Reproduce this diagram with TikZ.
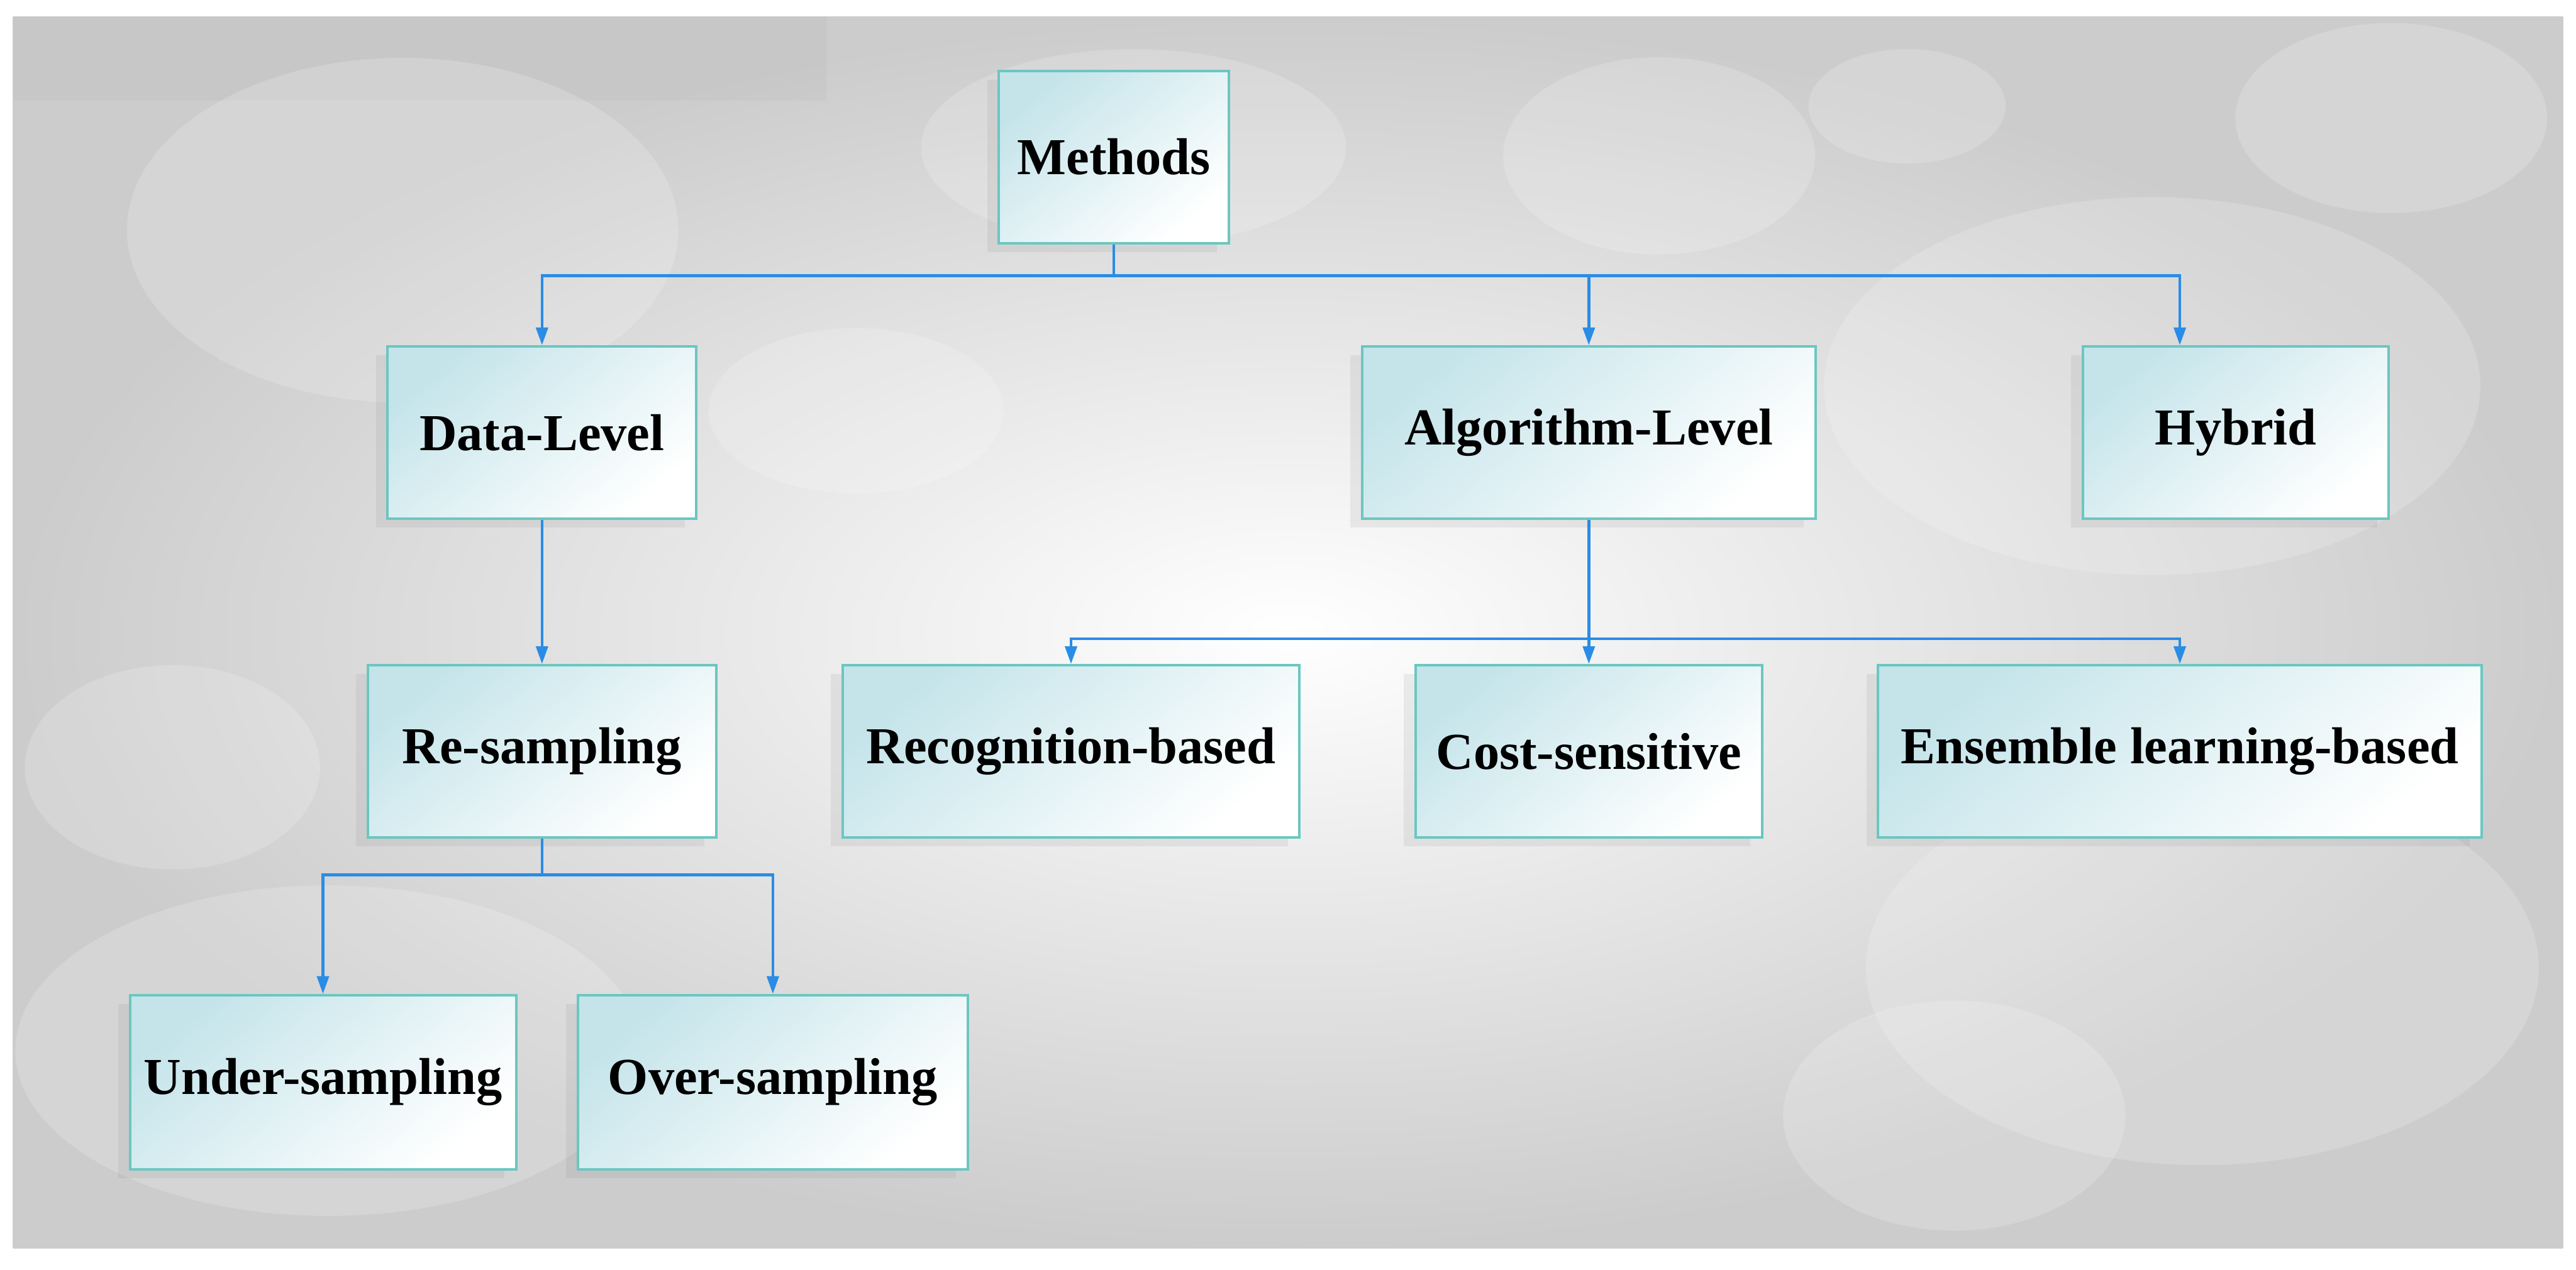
\documentclass[tikz,border=0pt]{standalone}
\usepackage{fontspec}
\setmainfont{Liberation Serif}
\usetikzlibrary{arrows.meta,positioning,shadows}
\definecolor{boxtop}{RGB}{196,228,234}
\definecolor{boxedge}{RGB}{108,198,192}
\definecolor{wire}{RGB}{42,140,230}
\definecolor{panel}{RGB}{204,204,204}
\tikzset{
  >={Triangle[length=3mm,width=2mm]},
  box/.style={draw=boxedge,line width=1.2pt,top color=boxtop,bottom color=white,
    shading angle=40,minimum width=#1,minimum height=2.92cm,align=center,
    font=\fontsize{25}{30}\selectfont\bfseries,
    drop shadow={shadow xshift=-0.2cm,shadow yshift=-0.15cm,opacity=0.12}},
  box/.default=5.2cm,
  flow/.style={->,line width=1.4pt,draw=wire},
  blob/.style={fill=white,opacity=0.18},
}
\begin{document}
\begin{tikzpicture}
    \useasboundingbox (0,0) rectangle (43.63,-21.51);
    % backdrop
    \fill[white] (0,0) rectangle (43.63,-21.51);
    \shade[inner color=white,outer color=panel] (0.22,-0.28) rectangle (43.41,-21.15);
    \begin{scope}
      \clip (0.22,-0.28) rectangle (43.41,-21.15);
      \fill[black,opacity=0.025] (0.22,-0.28) rectangle (14,-1.7);
      \fill[blob] (6.82,-3.9) ellipse (4.67 and 2.92);
      \fill[blob] (28.1,-2.64) ellipse (2.64 and 1.67);
      \fill[blob] (32.3,-1.8) ellipse (1.67 and 0.97);
      \fill[blob] (40.5,-2.0) ellipse (2.64 and 1.61);
      \fill[blob] (36.45,-6.54) ellipse (5.56 and 3.2);
      \fill[blob] (2.92,-13.0) ellipse (2.5 and 1.73);
      \fill[blob] (37.3,-16.4) ellipse (5.7 and 3.34);
      \fill[blob] (33.1,-18.9) ellipse (2.9 and 1.95);
      \fill[blob] (5.56,-17.8) ellipse (5.3 and 2.8);
      \fill[blob] (14.5,-6.96) ellipse (2.5 and 1.4);
      \fill[blob] (19.2,-2.5) ellipse (3.6 and 1.67);
    \end{scope}
    % tree
    \node[box=3.89cm] (m) at (18.865,-2.66) {Methods};
    \node[box=5.23cm] (dl) at (9.18,-7.33) {Data-Level};
    \node[box=7.68cm] (al) at (26.91,-7.33) {Algorithm-Level};
    \node[box=5.18cm] (hy) at (37.87,-7.33) {Hybrid};
    \node[box=5.9cm] (rs) at (9.18,-12.73) {Re-sampling};
    \node[box=7.74cm] (rb) at (18.14,-12.73) {Recognition-based};
    \node[box=5.87cm] (cs) at (26.91,-12.73) {Cost-sensitive};
    \node[box=10.22cm] (el) at (36.92,-12.73) {Ensemble learning-based};
    \node[box=6.54cm,minimum height=2.95cm] (us) at (5.47,-18.335) {Under-sampling};
    \node[box=6.6cm,minimum height=2.95cm] (os) at (13.09,-18.335) {Over-sampling};
    \foreach \n in {dl,al} \draw[flow] (m.south) -- ++(0,-0.53) -| (\n.north);
    \draw[flow] (m.south) -- ++(0,-0.53) -| ([xshift=-0.95cm]hy.north);
    \draw[flow] (dl) -- (rs);
    \foreach \n in {rb,cs,el} \draw[flow] (al.south) -- ++(0,-2.01) -| (\n.north);
    \foreach \n in {us,os} \draw[flow] (rs.south) -- ++(0,-0.61) -| (\n.north);
  \end{tikzpicture}
\end{document}
